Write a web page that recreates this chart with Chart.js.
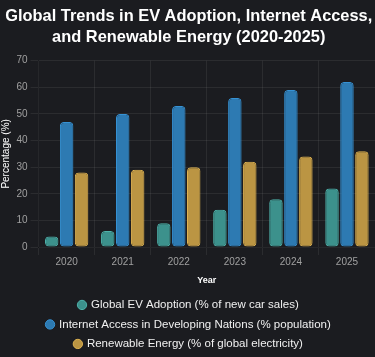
<!DOCTYPE html>
<html>
<head>
<meta charset="utf-8">
<script src="https://cdn.jsdelivr.net/npm/chart.js@4"></script>
<style>
html,body{margin:0;padding:0;background:#1b1c20;overflow:hidden;}
#wrap{width:375px;height:357px;}
</style>
</head>
<body>
<div id="wrap"><canvas id="c"></canvas></div>
<script>
const years = ['2020','2021','2022','2023','2024','2025'];
const evAdoption = [4, 6, 9, 14, 18, 22];
const internetAccess = [47, 50, 53, 56, 59, 62];
const renewableEnergy = [28, 29, 30, 32, 34, 36];
const seriesNames = [
  'Global EV Adoption (% of new car sales)',
  'Internet Access in Developing Nations (% population)',
  'Renewable Energy (% of global electricity)'
];
const FONT = 'Liberation Sans, Arial, Helvetica, sans-serif';

new Chart(document.getElementById('c'), {
  type: 'bar',
  data: {
    labels: years,
    datasets: [
      {label: seriesNames[0], data: evAdoption, backgroundColor: 'rgba(62,152,146,0.95)', borderColor: 'rgba(78,178,170,1)', borderWidth: 1, borderRadius: 4, borderSkipped: false},
      {label: seriesNames[1], data: internetAccess, backgroundColor: 'rgba(46,128,187,0.95)', borderColor: 'rgba(54,146,212,1)', borderWidth: 1, borderRadius: 4, borderSkipped: false},
      {label: seriesNames[2], data: renewableEnergy, backgroundColor: 'rgba(196,156,70,0.95)', borderColor: 'rgba(222,178,80,1)', borderWidth: 1, borderRadius: 4, borderSkipped: false}
    ]
  },
  options: {
    responsive: true,
    maintainAspectRatio: false,
    animation: false,
    layout: {padding: {left: -2.5, right: -5, top: 0, bottom: -2.7}},
    plugins: {
      title: {
        display: true,
        text: ['Global Trends in EV Adoption, Internet Access,', 'and Renewable Energy (2020-2025)'],
        color: '#ffffff',
        font: {family: FONT, size: 16.4, weight: 'bold', lineHeight: 1.3},
        padding: {top: 6, bottom: 12}
      },
      legend: {
        position: 'bottom',
        labels: {
          color: '#f0f0f0',
          usePointStyle: true,
          pointStyle: 'circle',
          boxWidth: 6.6,
          boxHeight: 6.6,
          padding: 8,
          font: {family: FONT, size: 11.5}
        }
      }
    },
    scales: {
      x: {
        ticks: {color: '#a0a0a0', padding: 1, font: {family: FONT, size: 10}},
        grid: {color: 'rgba(255,255,255,0.07)'},
        title: {display: true, text: 'Year', color: '#ffffff', padding: {top: 5.6, bottom: 5.7}, font: {family: FONT, size: 9, weight: 'bold'}}
      },
      y: {
        min: 0, max: 70,
        ticks: {stepSize: 10, color: '#a0a0a0', font: {family: FONT, size: 10}},
        grid: {color: 'rgba(255,255,255,0.07)'},
        title: {display: true, text: 'Percentage (%)', color: '#ffffff', padding: {top: 2.5, bottom: 1.5}, font: {family: FONT, size: 10}}
      }
    }
  }
});
</script>
</body>
</html>
